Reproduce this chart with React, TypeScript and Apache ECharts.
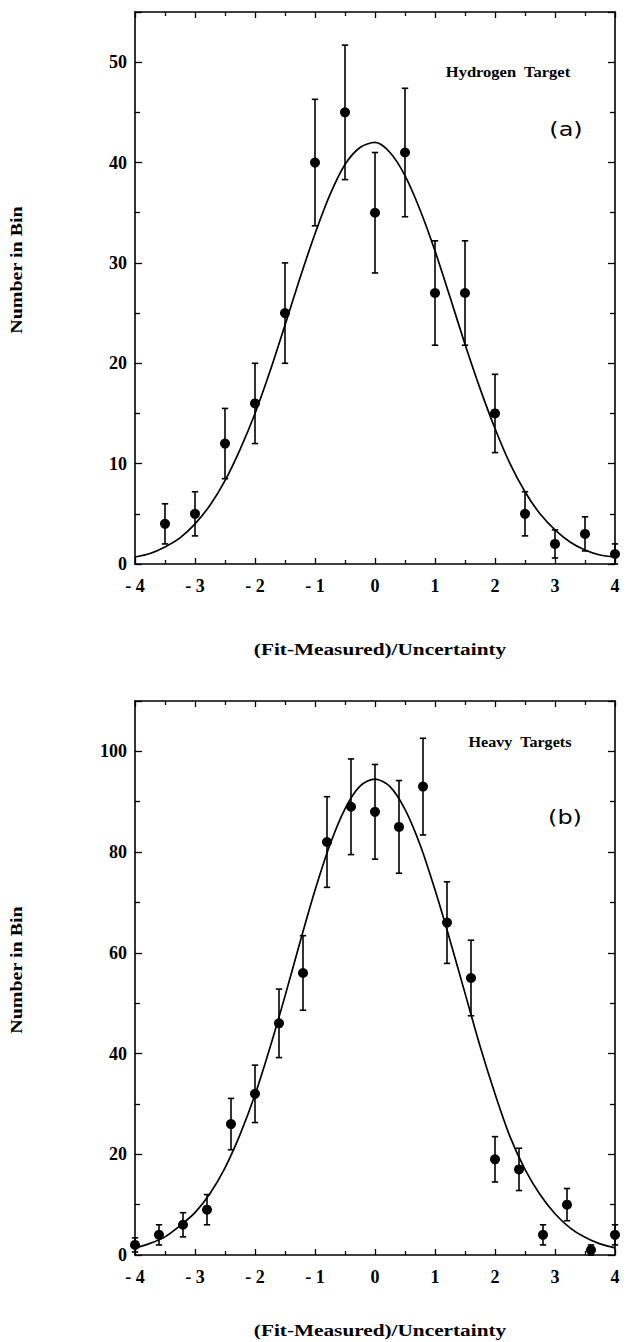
import React, { useEffect, useRef } from 'react';
import * as echarts from 'echarts';

// Panel (a): hydrogen target residual histogram
const hydrogenX = [-3.5, -3, -2.5, -2, -1.5, -1, -0.5, 0, 0.5, 1, 1.5, 2, 2.5, 3, 3.5, 4];
const hydrogenCounts = [4, 5, 12, 16, 25, 40, 45, 35, 41, 27, 27, 15, 5, 2, 3, 1];
const hydrogenErrors = [2, 2.2, 3.5, 4, 5, 6.3, 6.7, 6, 6.4, 5.2, 5.2, 3.9, 2.2, 1.4, 1.7, 1];

// Fitted curves sampled on a 0.25 grid
const fitX = [
  -4, -3.75, -3.5, -3.25, -3, -2.75, -2.5, -2.25, -2, -1.75, -1.5, -1.25, -1, -0.75, -0.5, -0.25,
  0, 0.25, 0.5, 0.75, 1, 1.25, 1.5, 1.75, 2, 2.25, 2.5, 2.75, 3, 3.25, 3.5, 3.75, 4,
];
const hydrogenFit = [
  0.7, 1.05, 1.7, 2.6, 4.0, 5.85, 8.3, 11.4, 15.0, 19.2, 23.8, 28.5, 32.9, 36.8, 39.8, 41.5,
  42.0, 41.0, 38.7, 35.3, 31.2, 26.6, 21.9, 17.5, 13.5, 10.0, 7.2, 5.0, 3.4, 2.2, 1.4, 0.9, 0.7,
];

// Panel (b): heavy targets residual histogram
const heavyX = [-4, -3.6, -3.2, -2.8, -2.4, -2, -1.6, -1.2, -0.8, -0.4, 0, 0.4, 0.8, 1.2, 1.6, 2, 2.4, 2.8, 3.2, 3.6, 4];
const heavyCounts = [2, 4, 6, 9, 26, 32, 46, 56, 82, 89, 88, 85, 93, 66, 55, 19, 17, 4, 10, 1, 4];
const heavyErrors = [1.4, 2, 2.4, 3, 5.1, 5.7, 6.8, 7.4, 9, 9.5, 9.4, 9.2, 9.6, 8.1, 7.5, 4.5, 4.2, 2, 3.2, 1, 2];
const heavyFit = [
  1.4, 2.3, 3.6, 5.8, 8.4, 12.2, 17.3, 23.9, 31.8, 41.2, 51.4, 62.1, 72.4, 81.5, 88.6, 93.1,
  94.5, 93.0, 88.5, 81.5, 72.5, 62.5, 52.0, 41.5, 32.0, 23.5, 17.0, 12.0, 8.2, 5.4, 3.5, 2.2, 1.4,
];

const xTickLabels = ['- 4', '- 3', '- 2', '- 1', '0', '1', '2', '3', '4'];
const xTitle = '(Fit-Measured)/Uncertainty';
const yTitle = 'Number in Bin';

const SERIF = '"Liberation Serif", "Times New Roman", serif';
const INK = '#000000';

function xAxes(gridIndex: number) {
  const base = {
    type: 'value',
    gridIndex,
    min: -4,
    max: 4,
    interval: 1,
    axisLine: { show: true, onZero: false, lineStyle: { color: INK, width: 1.6 } },
    axisTick: { show: true, inside: true, length: 6, lineStyle: { color: INK, width: 1.3 } },
    minorTick: { show: true, splitNumber: 2, length: 4, lineStyle: { color: INK, width: 1.3 } },
    splitLine: { show: false },
    minorSplitLine: { show: false },
  };
  return [
    {
      ...base,
      position: 'bottom',
      axisLabel: {
        show: true,
        margin: 13,
        color: INK,
        fontFamily: SERIF,
        fontWeight: 'bold',
        fontSize: 18,
        formatter: (v: number) => xTickLabels[Math.round(v) + 4],
      },
    },
    { ...base, position: 'top', axisLabel: { show: false } },
  ];
}

function yAxes(gridIndex: number, max: number, interval: number) {
  const base = {
    type: 'value',
    gridIndex,
    min: 0,
    max,
    interval,
    axisLine: { show: true, onZero: false, lineStyle: { color: INK, width: 1.6 } },
    axisTick: { show: true, inside: true, length: 7, lineStyle: { color: INK, width: 1.3 } },
    minorTick: { show: true, splitNumber: 2, length: 5, lineStyle: { color: INK, width: 1.3 } },
    splitLine: { show: false },
    minorSplitLine: { show: false },
  };
  return [
    {
      ...base,
      position: 'left',
      axisLabel: {
        show: true,
        margin: 8,
        color: INK,
        fontFamily: SERIF,
        fontWeight: 'bold',
        fontSize: 18,
        // the frame top is not a labelled tick
        formatter: (v: number) => (v % interval === 0 ? String(v) : ''),
      },
    },
    { ...base, position: 'right', axisLabel: { show: false } },
  ];
}

function errorBars(xs: number[], ys: number[], errs: number[], axisIndex: number) {
  return {
    type: 'custom',
    xAxisIndex: axisIndex,
    yAxisIndex: axisIndex,
    clip: false,
    z: 3,
    data: xs.map((x, i) => [x, Math.max(0, ys[i] - errs[i]), ys[i] + errs[i]]),
    renderItem: (_params: any, api: any) => {
      const lo = api.coord([api.value(0), api.value(1)]);
      const hi = api.coord([api.value(0), api.value(2)]);
      const cap = 3.2;
      const style = { stroke: INK, lineWidth: 1.6 };
      return {
        type: 'group',
        children: [
          { type: 'line', shape: { x1: lo[0], y1: lo[1], x2: hi[0], y2: hi[1] }, style },
          { type: 'line', shape: { x1: lo[0] - cap, y1: lo[1], x2: lo[0] + cap, y2: lo[1] }, style },
          { type: 'line', shape: { x1: hi[0] - cap, y1: hi[1], x2: hi[0] + cap, y2: hi[1] }, style },
        ],
      };
    },
  };
}

function points(xs: number[], ys: number[], axisIndex: number) {
  return {
    type: 'scatter',
    xAxisIndex: axisIndex,
    yAxisIndex: axisIndex,
    clip: false,
    z: 4,
    symbol: 'circle',
    symbolSize: 10,
    itemStyle: { color: INK, opacity: 1 },
    data: xs.map((x, i) => [x, ys[i]]),
  };
}

function fitLine(ys: number[], axisIndex: number) {
  return {
    type: 'line',
    xAxisIndex: axisIndex,
    yAxisIndex: axisIndex,
    smooth: 0.3,
    showSymbol: false,
    z: 2,
    lineStyle: { color: INK, width: 1.7 },
    data: fitX.map((x, i) => [x, ys[i]]),
  };
}

function label(text: string, x: number, y: number, font: string, scaleX = 1, rotation = 0) {
  return {
    type: 'text',
    x,
    y,
    rotation,
    scaleX,
    style: {
      text,
      font,
      fill: INK,
      align: 'center',
      verticalAlign: 'middle',
      textAlign: 'center',
      textVerticalAlign: 'middle',
    },
  };
}

export default function App() {
  const ref = useRef<HTMLDivElement>(null);

  useEffect(() => {
    if (!ref.current) return;
    const chart = echarts.init(ref.current, null, { renderer: 'svg' });
    const titleFont = `bold 16px ${SERIF}`;
    const yTitleFont = `bold 16px ${SERIF}`;
    const tagFont = `bold 14px ${SERIF}`;
    const panelFont = `normal 20px "DejaVu Sans", sans-serif`;

    chart.setOption({
      animation: false,
      backgroundColor: '#ffffff',
      grid: [
        { left: 135, top: 12, width: 480, height: 552 },
        { left: 135, top: 701, width: 480, height: 554 },
      ],
      xAxis: [...xAxes(0), ...xAxes(1)],
      yAxis: [...yAxes(0, 55, 10), ...yAxes(1, 110, 20)],
      series: [
        // panel (a) uses axes 0 (bottom/left); mirrored axes 1 carry ticks only
        fitLine(hydrogenFit, 0),
        errorBars(hydrogenX, hydrogenCounts, hydrogenErrors, 0),
        points(hydrogenX, hydrogenCounts, 0),
        // panel (b)
        fitLine(heavyFit, 2),
        errorBars(heavyX, heavyCounts, heavyErrors, 2),
        points(heavyX, heavyCounts, 2),
      ],
      graphic: [
        label('Hydrogen  Target', 508, 72, tagFont, 1.18),
        label('(a)', 566, 129, panelFont, 1.2),
        label('Heavy  Targets', 520, 742, tagFont, 1.15),
        label('(b)', 565, 817, panelFont, 1.2),
        label(yTitle, 17, 270, yTitleFont, 1.25, Math.PI / 2),
        label(yTitle, 17, 970, yTitleFont, 1.25, Math.PI / 2),
        label(xTitle, 380, 649, titleFont, 1.33),
        label(xTitle, 380, 1330, titleFont, 1.33),
      ],
    });

    return () => chart.dispose();
  }, []);

  return (
    <div
      ref={ref}
      style={{ position: 'absolute', left: 0, top: 0, width: 640, height: 1342, background: '#fff' }}
    />
  );
}
